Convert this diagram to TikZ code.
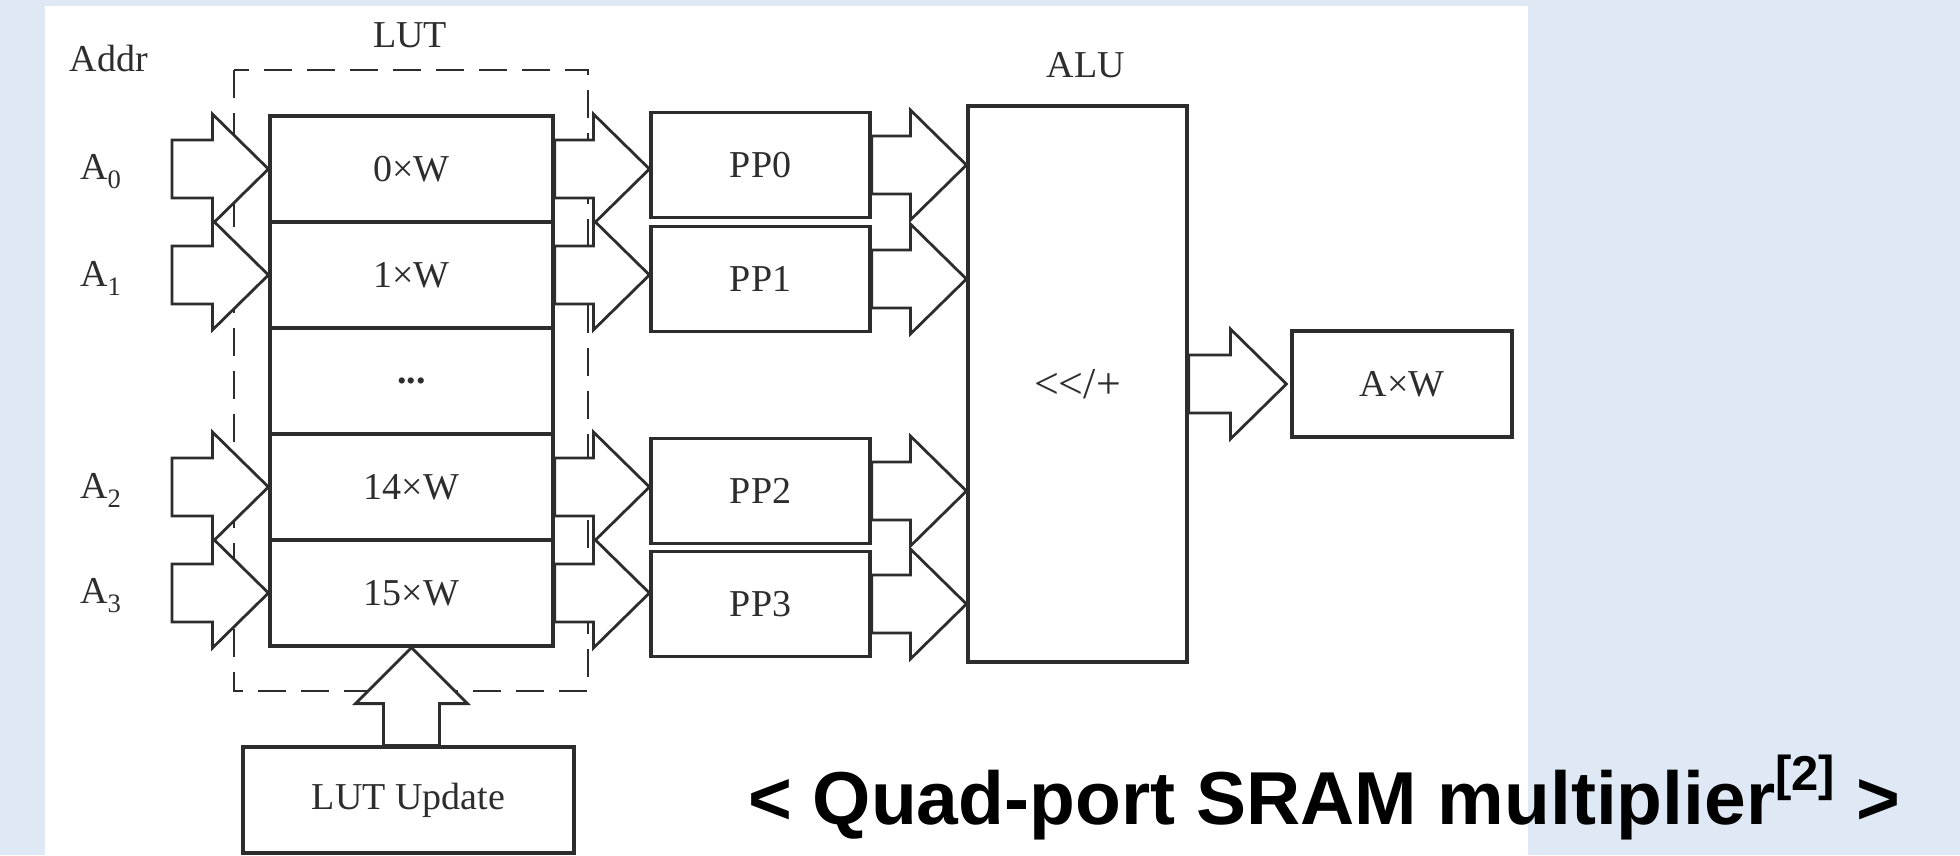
\documentclass[tikz,border=0pt]{standalone}
\usepackage{fontspec}
\setmainfont{Liberation Serif}
\newfontfamily\ttlfont{Liberation Sans}
\usetikzlibrary{calc}
\definecolor{bgblue}{RGB}{222,233,245}
\definecolor{ink}{RGB}{45,45,45}
\definecolor{txt}{RGB}{45,45,45}
\newcommand\dfont{\fontsize{38}{40}\selectfont}
\newcommand\rightblk[2]{%
 \draw[blk] let \p1=(#1), \p2=(#2) in
   (\x1,{\y2+29pt}) -- ({\x2-56pt},{\y2+29pt}) -- ({\x2-56pt},{\y2+55pt}) -- (\x2,\y2)
   -- ({\x2-56pt},{\y2-55pt}) -- ({\x2-56pt},{\y2-29pt}) -- (\x1,{\y2-29pt}) -- cycle;}
\newcommand\upblk[2]{%
 \draw[blk] let \p1=(#1), \p2=(#2) in
   ({\x2-28pt},\y1) -- ({\x2-28pt},{\y2-56pt}) -- ({\x2-56pt},{\y2-56pt}) -- (\x2,\y2)
   -- ({\x2+56pt},{\y2-56pt}) -- ({\x2+28pt},{\y2-56pt}) -- ({\x2+28pt},\y1) -- cycle;}
\tikzset{
 box/.style={draw=ink, line width=3.2pt, fill=white, inner sep=0pt, text=txt, font=\dfont},
 rowbox/.style={box, minimum width=283pt, minimum height=106pt},
 ppbox/.style={box, minimum width=219pt, minimum height=105pt},
 blk/.style={draw=ink, line width=2.8pt, fill=white, line join=miter},
 lbl/.style={text=txt, font=\dfont, inner sep=0pt},
 lutframe/.style={draw=ink, line width=2.8pt, dash pattern=on 28pt off 15pt},
}
\begin{document}
\begin{tikzpicture}[x=1pt,y=-1pt]
\fill[bgblue] (0,0) rectangle (1960,855);
\fill[white] (45,6) rectangle (1528,855);
\useasboundingbox (0,0) rectangle (1960,855);

% LUT frame
\draw[lutframe] (234,70) rectangle (588,691);

% LUT rows
\node[rowbox] (r0) at (411.5,169) {0×W};
\node[rowbox] (r1) at (411.5,275) {1×W};
\node[rowbox] (r2) at (411.5,381) {\textbf{...}};
\node[rowbox] (r3) at (411.5,487) {14×W};
\node[rowbox] (r4) at (411.5,593) {15×W};

% partial products
\node[ppbox] (pp0) at (760.5,165) {PP0};
\node[ppbox] (pp1) at (760.5,279) {PP1};
\node[ppbox] (pp2) at (760.5,491) {PP2};
\node[ppbox] (pp3) at (760.5,604) {PP3};

% ALU and output
\node[box, minimum width=219pt, minimum height=556pt, font=\fontsize{44}{46}\selectfont] (alu) at (1077.5,384) {<\kern0pt<\kern0pt/+};
\node[box, minimum width=220pt, minimum height=106pt] (axw) at (1402,384) {A×W};
\node[box, minimum width=331pt, minimum height=106pt] (upd) at (408.5,800) {LUT Update};

% labels
\node[lbl] (addr) at (109,58) {Addr};
\node[lbl] (lutlbl) at (410,35) {LUT};
\node[lbl] (alulbl) at (1086,65) {ALU};
\node[lbl, anchor=west] (a0) at (80,172) {A\textsubscript{0}};
\node[lbl, anchor=west] (a1) at (80,278) {A\textsubscript{1}};
\node[lbl, anchor=west] (a2) at (80,490) {A\textsubscript{2}};
\node[lbl, anchor=west] (a3) at (80,596) {A\textsubscript{3}};

% tails of input arrows
\coordinate (t0) at (172,169);
\coordinate (t1) at (172,275);
\coordinate (t3) at (172,487);
\coordinate (t4) at (172,593);

% input arrows
\rightblk{t0}{r0.west}
\rightblk{t1}{r1.west}
\rightblk{t3}{r3.west}
\rightblk{t4}{r4.west}

% LUT -> PP
\rightblk{r0.east}{pp0.west |- r0.east}
\rightblk{r1.east}{pp1.west |- r1.east}
\rightblk{r3.east}{pp2.west |- r3.east}
\rightblk{r4.east}{pp3.west |- r4.east}

% PP -> ALU
\rightblk{pp0.east}{alu.west |- pp0.east}
\rightblk{pp1.east}{alu.west |- pp1.east}
\rightblk{pp2.east}{alu.west |- pp2.east}
\rightblk{pp3.east}{alu.west |- pp3.east}

% ALU -> AxW
\rightblk{alu.east |- axw.west}{$(axw.west)+(-4pt,0pt)$}

% LUT update -> LUT
\upblk{upd.north}{r4.south}

% title
\node[anchor=base west, inner sep=0pt, text=black, font={\ttlfont\bfseries\fontsize{75}{80}\selectfont}] (title) at (748,824)
  {< Quad-port SRAM multiplier\raisebox{34pt}{\fontsize{49}{49}\selectfont [2]} >};
\end{tikzpicture}
\end{document}
